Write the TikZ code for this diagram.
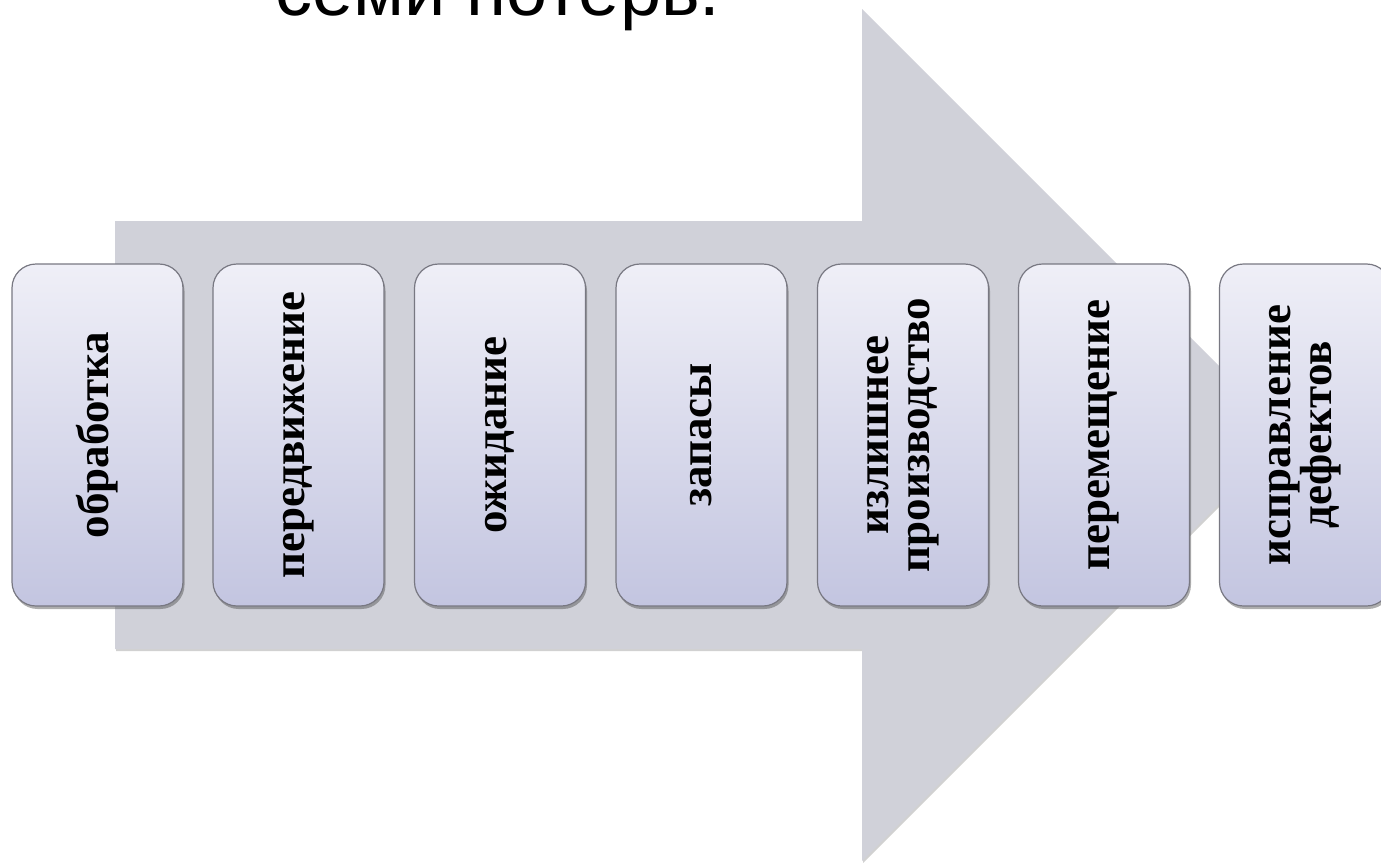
\documentclass[tikz,border=0pt]{standalone}
\usepackage{fontspec}
\setmainfont{Liberation Serif}
\newfontfamily\titlefont{Liberation Sans}
\usetikzlibrary{shadows}
\definecolor{arrowgray}{RGB}{208,209,217}
\definecolor{boxtop}{RGB}{239,239,247}
\definecolor{boxbot}{RGB}{195,197,224}
\definecolor{boxline}{RGB}{120,120,130}
\tikzset{
  lossbox/.style={draw=boxline, line width=1.2pt, rounded corners=24pt,
    minimum width=171pt, minimum height=342pt, inner sep=0pt,
    top color=boxtop, bottom color=boxbot,
    drop shadow={shadow xshift=1.5pt, shadow yshift=-3pt, opacity=0.45, fill=black!70}},
  losstext/.style={rotate=90, align=center, inner sep=0pt,
    font=\fontsize{45}{41}\selectfont\bfseries},
}
\begin{document}
\begin{tikzpicture}[x=1pt,y=-1pt]
\useasboundingbox (0,0) rectangle (1381,862);
\begin{scope}
\clip (0,0) rectangle (1381,862);
% title (cut at the top)
\node[anchor=base west, inner sep=0pt, font=\titlefont\fontsize{74}{74}\selectfont] (title) at (275,16) {семи потерь.};
% big arrow
\fill[arrowgray, drop shadow={shadow xshift=1pt, shadow yshift=-2pt, opacity=0.3, fill=black!60}]
  (115,221) -- (862,221) -- (862,9) -- (1288,435) -- (862,861) -- (862,649) -- (115,649) -- cycle;
% boxes
\node[lossbox] (b1) at (97.5,435) {};
\node[lossbox] (b2) at (298.5,435) {};
\node[lossbox] (b3) at (500,435) {};
\node[lossbox] (b4) at (701.5,435) {};
\node[lossbox] (b5) at (903,435) {};
\node[lossbox] (b6) at (1104,435) {};
\node[lossbox] (b7) at (1305,435) {};
\node[losstext] (t1) at (b1.center) {обработка};
\node[losstext] (t2) at (b2.center) {передвижение};
\node[losstext] (t3) at (b3.center) {ожидание};
\node[losstext] (t4) at (b4.center) {запасы};
\node[losstext] (t5) at (b5.center) {излишнее\\производство};
\node[losstext] (t6) at (b6.center) {перемещение};
\node[losstext] (t7) at (b7.center) {исправление\\дефектов};
\end{scope}
\end{tikzpicture}
\end{document}
